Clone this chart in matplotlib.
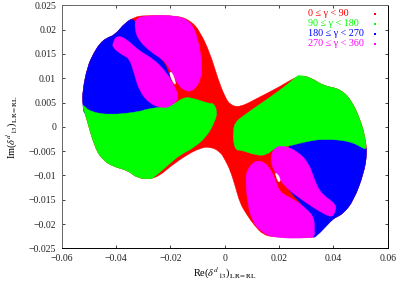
import matplotlib
matplotlib.use("Agg")
import matplotlib.pyplot as plt
from matplotlib.path import Path
from matplotlib.patches import PathPatch

plt.rcParams['font.family'] = ['Liberation Serif', 'DejaVu Serif']
plt.rcParams['mathtext.fontset'] = 'stix'

# region boundaries: (Re, Im)
region_all = [(-.0523,.0045),(-.0523,.0075),(-.0505,.0124),(-.0483,.0151),(-.0459,.0172),(-.0434,.0183),
    (-.0404,.0189),(-.0367,.0214),(-.033,.0226),(-.03,.0229),(-.0171,.0229),(-.0122,.0217),(-.0091,.0196),
    (-.0054,.0152),(-.0024,.0097),(.0001,.0062),(.002,.0045),(.0056,.004),(.0131,.0062),(.0204,.0083),
    (.0272,.0106),(.0315,.0102),(.0364,.0084),(.042,.0079),(.0463,.0058),(.05,.0014),(.0518,-.0024),
    (.0524,-.0055),(.0512,-.0096),(.0475,-.0151),(.0438,-.0178),(.0407,-.0187),(.0394,-.0192),(.0334,-.0226),
    (.0315,-.0228),(.0179,-.0227),(.0142,-.0222),(.0112,-.0205),(.0081,-.0181),(.0056,-.0157),(.004,-.0125),
    (.002,-.0089),(.0001,-.0068),(-.0017,-.0051),(-.0054,-.0041),(-.0091,-.0044),(-.014,-.0058),(-.0201,-.0082),
    (-.0238,-.01),(-.0275,-.0108),(-.0324,-.0105),(-.0355,-.009),(-.041,-.0082),(-.0447,-.0069),(-.0477,-.0045),
    (-.0514,.0027)]
green_left = [(-.0523,.0043),(-.0521,.0045),(-.0496,.0031),(-.0422,.0024),(-.0312,.0031),(-.0287,.0037),(-.0195,.0043),
    (-.0152,.0061),(-.0116,.0059),(-.0054,.0047),(-.0042,.0049),(-.0027,.0032),(-.0036,.0011),(-.0066,-.002),
    (-.0116,-.0044),(-.0165,-.0058),(-.0201,-.0075),(-.0262,-.0105),(-.0275,-.0108),(-.0324,-.0105),(-.0355,-.009),(-.041,-.0082),
    (-.0447,-.0069),(-.0477,-.0045),(-.0514,.0027)]
green_right = [(.0032,-.0006),(.0038,.0008),(.0063,.0021),(.0204,.0075),(.0266,.0104),(.0272,.0106),(.0315,.0102),(.0364,.0084),
    (.042,.0079),(.0463,.0058),(.05,.0014),(.0518,-.0024),(.0521,-.0045),(.0515,-.0046),(.0461,-.0029),(.0363,-.0025),(.0302,-.003),
    (.0228,-.0041),(.0185,-.0043),(.0155,-.0058),(.0118,-.0059),(.0056,-.0047),(.0044,-.0049),(.0032,-.0034)]
blue_upper = [(-.0523,.0045),(-.0523,.0075),(-.0505,.0124),(-.0483,.0151),(-.0459,.0172),(-.0434,.0183),
    (-.0404,.0189),(-.0367,.0214),(-.033,.0226),(-.0318,.0179),(-.0226,.0138),(-.0205,.011),(-.0183,.007),
    (-.0226,.0035),(-.0312,.0025),(-.0422,.002),(-.0515,.002)]
blue_lower = [(.0228,-.0035),(.0302,-.002),(.0363,-.0015),(.0425,-.0017),(.0486,-.002),(.0519,-.0037),(.0524,-.0055),
    (.0512,-.0096),(.0475,-.0151),(.0438,-.0178),(.0407,-.0187),(.0394,-.0192),(.0338,-.0226),(.032,-.0229),(.032,-.018),(.0204,-.0113)]
magenta_top = [(-.033,.022),(-.03,.0229),(-.0171,.0229),(-.0122,.0214),(-.0097,.0179),(-.0082,.0124),(-.0091,.0093),
    (-.0116,.0074),(-.0146,.0073),(-.0171,.0086),(-.0187,.0104),(-.0208,.0124),(-.0226,.0138),(-.0275,.0155),
    (-.0318,.0179),(-.033,.02)]
magenta_left = [(-.0412,.0163),(-.0412,.0172),(-.0398,.0188),(-.0361,.0181),(-.0318,.0157),(-.0263,.014),(-.0214,.0112),(-.0183,.0082),
    (-.0168,.0059),(-.0195,.0043),(-.0226,.0038),(-.0275,.0047),(-.0314,.0073),(-.0333,.011),(-.0351,.0141),(-.0378,.0148)]
magenta_right = [(.0171,-.0058),(.0185,-.0042),(.0216,-.0039),(.0265,-.0049),(.031,-.0075),(.0328,-.0106),(.0353,-.0137),
    (.0412,-.016),(.0406,-.0176),(.0394,-.0187),(.0345,-.0173),(.0289,-.0152),(.024,-.0132),(.0204,-.0111),(.0177,-.0085),(.0171,-.0072)]
magenta_lower = [(.0105,-.0073),(.013,-.0069),(.0161,-.008),(.0185,-.0106),(.0201,-.0135),(.0253,-.0149),(.0302,-.0169),
    (.033,-.0188),(.033,-.0215),(.033,-.0226),(.0314,-.0229),(.0179,-.0229),(.013,-.0214),(.0103,-.0195),(.0085,-.0161),(.0076,-.0106),(.0085,-.0087)]
hole_upper = [(-.0205,.011),(-.0195,.0114),(-.0179,.009),(-.0185,.0086)]
hole_lower = [(.0185,-.0092),(.0206,-.0106),(.0201,-.0116),(.0191,-.0106)]

legend_labels = ['0 ≤ γ < 90', '90 ≤ γ < 180', '180 ≤ γ < 270', '270 ≤ γ < 360']
legend_colors = ['#ff0000', '#00ff00', '#0000ff', '#ff00ff']
x_ticks = [-0.06, -0.04, -0.02, 0, 0.02, 0.04, 0.06]
x_tick_labels = ['−0.06', '−0.04', '−0.02', '0', '0.02', '0.04', '0.06']
y_ticks = [-0.025, -0.02, -0.015, -0.01, -0.005, 0, 0.005, 0.01, 0.015, 0.02, 0.025]
y_tick_labels = ['−0.025', '−0.02', '−0.015', '−0.01', '−0.005', '0', '0.005', '0.01', '0.015', '0.02', '0.025']

fig = plt.figure(figsize=(3.97, 2.81), dpi=100)
ax = fig.add_axes([61.7/397, 1-248.3/281, 326/397, 243/281])


def fill(pts, color):
    n = len(pts)
    mid = [((pts[i][0]+pts[(i+1) % n][0])/2, (pts[i][1]+pts[(i+1) % n][1])/2) for i in range(n)]
    verts = [mid[-1]]
    codes = [Path.MOVETO]
    for i in range(n):
        verts += [pts[i], mid[i]]
        codes += [Path.CURVE3, Path.CURVE3]
    ax.add_patch(PathPatch(Path(verts, codes), facecolor=color, edgecolor=color, lw=0.3))


fill(region_all, legend_colors[0])
for r in (blue_upper, blue_lower):
    fill(r, legend_colors[2])
for r in (green_left, green_right):
    fill(r, legend_colors[1])
for r in (magenta_top, magenta_left, magenta_right, magenta_lower):
    fill(r, legend_colors[3])
for r in (hole_upper, hole_lower):
    fill(r, 'white')

for i, (lab, col) in enumerate(zip(legend_labels, legend_colors)):
    yy = 0.9642 - 0.0411*i
    ax.text(0.7555, yy, lab, color=col, fontsize=7.3, transform=ax.transAxes, va='center', ha='left')
    ax.plot([0.961], [yy], ls='none', marker='s', ms=1.8, mew=0, color=col, transform=ax.transAxes)

ax.set_xlim(-0.06, 0.06)
ax.set_ylim(-0.025, 0.025)
ax.set_xticks(x_ticks, x_tick_labels)
ax.set_yticks(y_ticks, y_tick_labels)
ax.tick_params(direction='in', top=True, right=True, length=2.5, width=0.6, labelsize=7, pad=4, colors='#222222')
for s in ax.spines.values():
    s.set_linewidth(0.7)
ax.spines['top'].set_color('#666666')
ax.spines['left'].set_color('#666666')
ax.set_xlabel(r'Re($\delta^{d}{}_{13}$)$_{\mathrm{LR=RL}}$', fontsize=7.5, labelpad=2)
ax.set_ylabel(r'Im($\delta^{d}{}_{13}$)$_{\mathrm{LR=RL}}$', fontsize=7.5, labelpad=6)
fig.savefig('out.png', dpi=100)
